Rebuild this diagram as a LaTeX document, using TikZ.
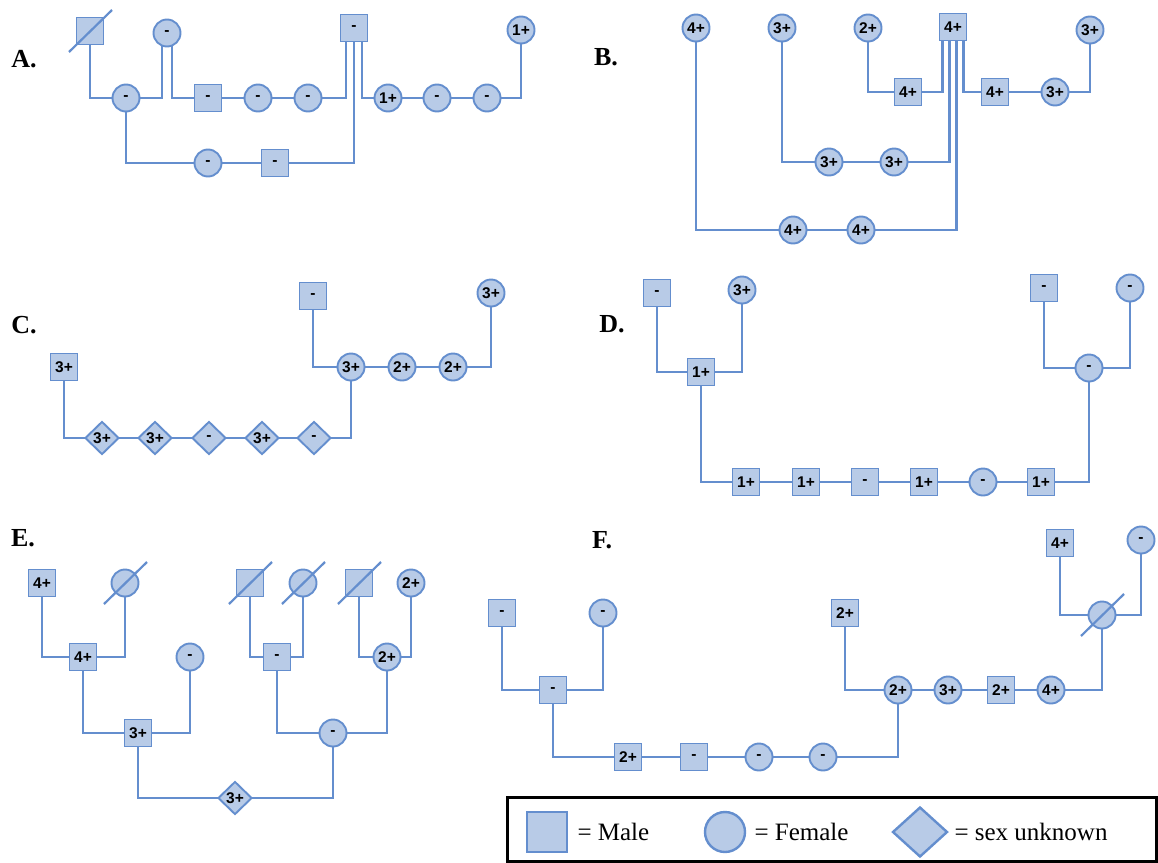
\documentclass[tikz,border=0pt]{standalone}
\usepackage{fontspec}
\setmainfont{Liberation Serif}
\newfontfamily\labfont{Liberation Sans}
\usetikzlibrary{shapes.geometric,backgrounds}
\definecolor{pedfill}{RGB}{184,203,231}
\definecolor{pedline}{RGB}{100,142,206}
\tikzset{
  base/.style={draw=pedline, fill=pedfill, line width=1.9pt, inner sep=0pt, font=\labfont\bfseries\fontsize{15.5}{15.5}\selectfont},
  sq/.style={base, rectangle, minimum size=27pt},
  ci/.style={base, circle, minimum size=27pt},
  di/.style={base, diamond, minimum width=34pt, minimum height=33pt},
  conn/.style={draw=pedline, line width=2.8pt},
  slash/.style={draw=pedline, line width=2.2pt},
  plabel/.style={font=\bfseries\fontsize{26}{26}\selectfont},
  legtext/.style={anchor=west, font=\fontsize{25}{25}\selectfont},
}
\newcommand\crossout[1]{\draw[slash] ([shift={(-21pt,-21pt)}]#1.center) -- ([shift={(22pt,21pt)}]#1.center);}
\begin{document}
\begin{tikzpicture}[x=1pt,y=-1pt]
\useasboundingbox (0,0) rectangle (1158,862);
% ---------- Panel A
\node[plabel] (LA) at (24,59) {A.};
\node[sq] (A1) at (90,31) {};
\node[ci] (A2) at (167,33) {-};
\node[sq] (A3) at (354,28) {-};
\node[ci] (A4) at (521,30) {1+};
\node[ci] (A5) at (126,98) {-};
\node[sq] (A6) at (208,98) {-};
\node[ci] (A7) at (258,98) {-};
\node[ci] (A8) at (308,98) {-};
\node[ci] (A9) at (388,98) {1+};
\node[ci] (A10) at (437,98) {-};
\node[ci] (A11) at (487,98) {-};
\node[ci] (A12) at (208,163) {-};
\node[sq] (A13) at (275,163) {-};
\crossout{A1}
% ---------- Panel B
\node[plabel] (LB) at (606,57) {B.};
\node[ci] (B1) at (696,28) {4+};
\node[ci] (B2) at (782,28) {3+};
\node[ci] (B3) at (868,28) {2+};
\node[sq] (B4) at (953,27) {4+};
\node[ci] (B5) at (1090,30) {3+};
\node[sq] (B6) at (908,92) {4+};
\node[sq] (B7) at (995,92) {4+};
\node[ci] (B8) at (1055,92) {3+};
\node[ci] (B9) at (829,162) {3+};
\node[ci] (B10) at (894,162) {3+};
\node[ci] (B11) at (793,230) {4+};
\node[ci] (B12) at (861,230) {4+};
% ---------- Panel C
\node[plabel] (LC) at (24,325) {C.};
\node[sq] (C1) at (313,296) {-};
\node[ci] (C2) at (491,293) {3+};
\node[sq] (C3) at (64,367) {3+};
\node[ci] (C4) at (351,367) {3+};
\node[ci] (C5) at (402,367) {2+};
\node[ci] (C6) at (453,367) {2+};
\node[di] (C7) at (102,438) {3+};
\node[di] (C8) at (155,438) {3+};
\node[di] (C9) at (209,438) {-};
\node[di] (C10) at (262,438) {3+};
\node[di] (C11) at (314,438) {-};
% ---------- Panel D
\node[plabel] (LD) at (612,324) {D.};
\node[sq] (D1) at (657,293) {-};
\node[ci] (D2) at (742,290) {3+};
\node[sq] (D3) at (701,372) {1+};
\node[sq] (D4) at (1044,288) {-};
\node[ci] (D5) at (1130,288) {-};
\node[ci] (D6) at (1089,368) {-};
\node[sq] (D7) at (746,482) {1+};
\node[sq] (D8) at (806,482) {1+};
\node[sq] (D9) at (865,482) {-};
\node[sq] (D10) at (924,482) {1+};
\node[ci] (D11) at (983,482) {-};
\node[sq] (D12) at (1041,482) {1+};
% ---------- Panel E
\node[plabel] (LE) at (23,538) {E.};
\node[sq] (E1) at (42,583) {4+};
\node[ci] (E2) at (125,583) {};
\node[sq] (E3) at (250,583) {};
\node[ci] (E4) at (303,583) {};
\node[sq] (E5) at (359,583) {};
\node[ci] (E6) at (411,583) {2+};
\node[sq] (E7) at (83,657) {4+};
\node[ci] (E8) at (190,657) {-};
\node[sq] (E9) at (277,657) {-};
\node[ci] (E10) at (387,657) {2+};
\node[sq] (E11) at (138,733) {3+};
\node[ci] (E12) at (333,733) {-};
\node[di] (E13) at (235,798) {3+};
\crossout{E2}
\crossout{E3}
\crossout{E4}
\crossout{E5}
% ---------- Panel F
\node[plabel] (LF) at (602,540) {F.};
\node[sq] (F1) at (1060,543) {4+};
\node[ci] (F2) at (1141,540) {-};
\node[sq] (F3) at (502,613) {-};
\node[ci] (F4) at (603,613) {-};
\node[sq] (F5) at (845,613) {2+};
\node[ci] (F6) at (1102,615) {};
\node[sq] (F7) at (553,690) {-};
\node[ci] (F8) at (898,690) {2+};
\node[ci] (F9) at (948,690) {3+};
\node[sq] (F10) at (1001,690) {2+};
\node[ci] (F11) at (1051,690) {4+};
\node[sq] (F12) at (628,757) {2+};
\node[sq] (F13) at (694,757) {-};
\node[ci] (F14) at (759,757) {-};
\node[ci] (F15) at (823,757) {-};
\crossout{F6}
% ---------- Legend
\node[draw=black, line width=2.5pt, minimum width=649pt, minimum height=64pt, anchor=north west, inner sep=0pt] (LG) at (506,796) {};
\node[sq, line width=2.4pt, minimum size=40pt] (LG1) at (547,832) {};
\node[legtext] (LT1) at (574,832) {= Male};
\node[ci, line width=2.4pt, minimum size=40pt] (LG2) at (725,832) {};
\node[legtext] (LT2) at (751,832) {= Female};
\node[di, line width=2.4pt, minimum width=55pt, minimum height=50pt] (LG3) at (920,832) {};
\node[legtext] (LT3) at (951,832) {= sex unknown};
% ---------- Connectors
\begin{scope}[on background layer]
\fill[white] (0,0) rectangle (1158,862);
% A
\draw[conn] (A1.center) |- (A5.center);
\draw[conn] ([xshift=-5pt]A2.center) |- (A5.center);
\draw[conn] ([xshift=5pt]A2.center) |- (A6.center);
\draw[conn] (A6.center) -- (A7.center) -- (A8.center);
\draw[conn] ([xshift=-8pt]A3.center) |- (A8.center);
\draw[conn] ([xshift=8pt]A3.center) |- (A9.center);
\draw[conn] (A3.center) |- (A13.center);
\draw[conn] (A9.center) -- (A10.center) -- (A11.center);
\draw[conn] (A4.center) |- (A11.center);
\draw[conn] (A5.center) |- (A12.center);
\draw[conn] (A12.center) -- (A13.center);
% B
\draw[conn] (B3.center) |- (B6.center);
\draw[conn] ([xshift=-10.5pt]B4.center) |- (B6.center);
\draw[conn] ([xshift=-3.5pt]B4.center) |- (B10.center);
\draw[conn] (B9.center) -- (B10.center);
\draw[conn] (B2.center) |- (B9.center);
\draw[conn] ([xshift=3.5pt]B4.center) |- (B12.center);
\draw[conn] (B11.center) -- (B12.center);
\draw[conn] (B1.center) |- (B11.center);
\draw[conn] ([xshift=10.5pt]B4.center) |- (B7.center);
\draw[conn] (B7.center) -- (B8.center);
\draw[conn] (B5.center) |- (B8.center);
% C
\draw[conn] (C1.center) |- (C4.center);
\draw[conn] (C4.center) -- (C5.center) -- (C6.center);
\draw[conn] (C2.center) |- (C6.center);
\draw[conn] (C3.center) |- (C7.center);
\draw[conn] (C7.center) -- (C8.center) -- (C9.center) -- (C10.center) -- (C11.center);
\draw[conn] (C4.center) |- (C11.center);
% D
\draw[conn] (D1.center) |- (D3.center);
\draw[conn] (D2.center) |- (D3.center);
\draw[conn] (D3.center) |- (D7.center);
\draw[conn] (D7.center) -- (D8.center) -- (D9.center) -- (D10.center) -- (D11.center) -- (D12.center);
\draw[conn] (D4.center) |- (D6.center);
\draw[conn] (D5.center) |- (D6.center);
\draw[conn] (D6.center) |- (D12.center);
% E
\draw[conn] (E1.center) |- (E7.center);
\draw[conn] (E2.center) |- (E7.center);
\draw[conn] (E7.center) |- (E11.center);
\draw[conn] (E8.center) |- (E11.center);
\draw[conn] (E11.center) |- (E13.center);
\draw[conn] (E3.center) |- (E9.center);
\draw[conn] (E4.center) |- (E9.center);
\draw[conn] (E5.center) |- (E10.center);
\draw[conn] (E6.center) |- (E10.center);
\draw[conn] (E9.center) |- (E12.center);
\draw[conn] (E10.center) |- (E12.center);
\draw[conn] (E12.center) |- (E13.center);
% F
\draw[conn] (F3.center) |- (F7.center);
\draw[conn] (F4.center) |- (F7.center);
\draw[conn] (F7.center) |- (F12.center);
\draw[conn] (F12.center) -- (F13.center) -- (F14.center) -- (F15.center);
\draw[conn] (F8.center) |- (F15.center);
\draw[conn] (F5.center) |- (F8.center);
\draw[conn] (F8.center) -- (F9.center) -- (F10.center) -- (F11.center);
\draw[conn] (F6.center) |- (F11.center);
\draw[conn] (F1.center) |- (F6.center);
\draw[conn] (F2.center) |- (F6.center);
\end{scope}
\end{tikzpicture}
\end{document}
